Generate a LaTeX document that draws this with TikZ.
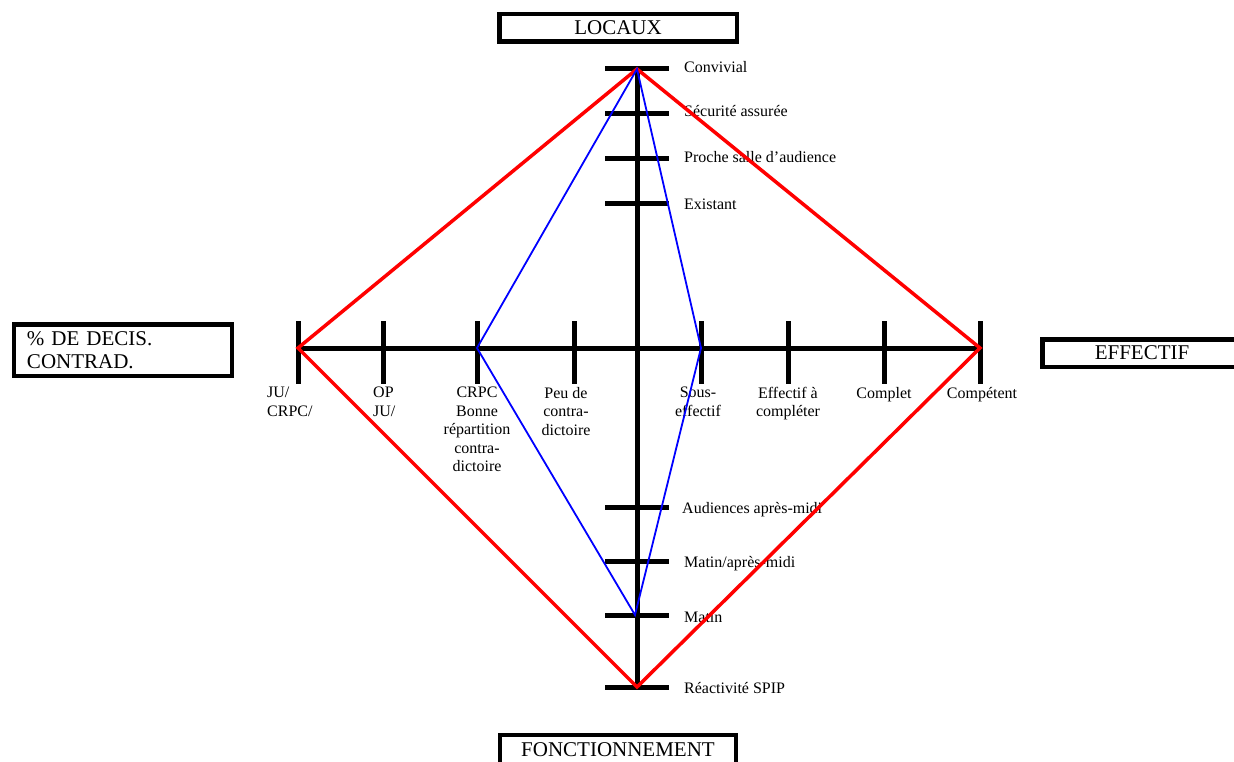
\documentclass[tikz,border=0pt]{standalone}
\usepackage{fontspec}
\setmainfont{Liberation Serif}
\begin{document}
\begin{tikzpicture}[x=1pt,y=-1pt,
  axisline/.style={line width=5pt},
  tickmark/.style={line width=5pt},
  titlebox/.style={draw, line width=4.5pt, inner sep=0pt, font=\fontsize{21}{23}\selectfont},
  lab/.style={inner sep=0pt, font=\fontsize{16}{18.5}\selectfont},
  hlab/.style={lab, anchor=north, align=center},
  vlab/.style={lab, anchor=base west},
  redline/.style={draw=red, line width=3.5pt, line join=miter},
  blueline/.style={draw=blue, line width=1.8pt, line join=miter}]
\useasboundingbox (0,0) rectangle (1234,762);
\fill[white] (0,0) rectangle (1234,762);

% title boxes
\node[titlebox, minimum width=237.5pt, minimum height=27.5pt] (locaux) at (618,28) {LOCAUX};
\node[titlebox, minimum width=236pt, minimum height=30pt] (fonct) at (618,750) {FONCTIONNEMENT};
\node[titlebox, minimum width=199.5pt, minimum height=27.5pt] (effectif) at (1142,353) {EFFECTIF};
\node[titlebox, text width=192pt, inner xsep=13pt, minimum height=51.5pt, align=left] (decis) at (123,350) {\% DE DECIS.\\CONTRAD.};

% axis end points
\coordinate (axT) at (637,69);
\coordinate (axB) at (637,687);
\coordinate (axL) at (298,348);
\coordinate (axR) at (980,348);

% axes
\draw[axisline] (axT) -- (axB);
\draw[axisline] (axL) -- (axR);
\foreach \x in {298,383,477,574,701,788,884,980}
  \draw[tickmark] (\x,321) -- (\x,384);
\foreach \y in {69,114,159,204,507,561,615,687}
  \draw[tickmark] (605,\y) -- (669,\y);

% vertical axis labels
\node[vlab] (v1) at (684,73) {Convivial};
\node[vlab] (v2) at (684,117) {Sécurité assurée};
\node[vlab] (v3) at (684,163) {Proche salle d’audience};
\node[vlab] (v4) at (684,210) {Existant};
\node[vlab] (v5) at (682,513) {Audiences après-midi};
\node[vlab] (v6) at (684,567) {Matin/après-midi};
\node[vlab] (v7) at (684,622) {Matin};
\node[vlab] (v8) at (684,693) {Réactivité SPIP};

% horizontal axis labels
\node[lab, anchor=north west, align=left] (h1) at (267,387) {JU/\\CRPC/};
\node[lab, anchor=north west, align=left] (h2) at (373,387) {OP\\JU/};
\node[hlab] (h3) at (477,387) {CRPC\\Bonne\\répartition\\contra-\\dictoire};
\node[hlab] (h4) at (566,387) {Peu de\\contra-\\dictoire};
\node[hlab] (h5) at (698,387) {Sous-\\effectif};
\node[hlab] (h6) at (788,387) {Effectif à\\compléter};
\node[hlab] (h7) at (884,387) {Complet};
\node[hlab] (h8) at (982,387) {Compétent};

% profile points
\coordinate (bR) at (701,348);
\coordinate (bB) at (635,615);
\coordinate (bL) at (477,348);

% red diamond
\draw[redline] (axT) -- (axR) -- (axB) -- (axL) -- cycle;
% blue profile
\draw[blueline] (axT) -- (bR) -- (bB) -- (bL) -- cycle;
\end{tikzpicture}
\end{document}
